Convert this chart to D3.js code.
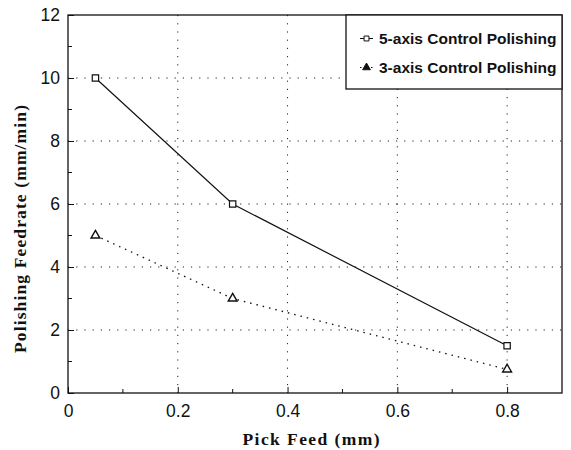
<!DOCTYPE html>
<html>
<head>
<meta charset="utf-8">
<script src="https://cdn.jsdelivr.net/npm/d3@7"></script>
<style>
  body { margin: 0; background: #fff; }
  .tick text { font-family: "Liberation Sans", Arial, sans-serif; font-size: 17.5px; fill: #111; }
  .grid line { stroke: #222; stroke-dasharray: 1.2 7; }
  .axtitle { font-family: "Liberation Serif", "Times New Roman", serif; font-weight: bold; font-size: 17.5px; fill: #111; }
  .legend text { font-family: "Liberation Sans", Arial, sans-serif; font-weight: bold; font-size: 15.5px; fill: #111; }
</style>
</head>
<body>
<div id="chart"></div>
<script>
const margin = { top: 15, right: 9, bottom: 57, left: 68 },
      width = 571 - margin.left - margin.right,
      height = 450 - margin.top - margin.bottom;

// values
const pickFeed = [0.05, 0.3, 0.8];
const feed5axis = [10, 6, 1.5];
const feed3axis = [5, 3, 0.75];
const xTicks = [0, 0.2, 0.4, 0.6, 0.8];
const yTicks = [0, 2, 4, 6, 8, 10, 12];
const xMinor = [0.1, 0.3, 0.5, 0.7];
const yMinor = [1, 3, 5, 7, 9, 11];
const seriesNames = ["5-axis Control Polishing", "3-axis Control Polishing"];

const x = d3.scaleLinear().domain([0, 0.9]).range([0, width]);
const y = d3.scaleLinear().domain([0, 12]).range([height, 0]);

const svg = d3.select("#chart").append("svg")
    .attr("width", width + margin.left + margin.right)
    .attr("height", height + margin.top + margin.bottom)
  .append("g")
    .attr("transform", "translate(" + margin.left + "," + margin.top + ")");

// dotted grid
svg.append("g").attr("class", "grid")
  .selectAll("line").data(xTicks.filter(d => d > 0)).join("line")
  .attr("x1", d => x(d)).attr("x2", d => x(d))
  .attr("y1", 0).attr("y2", height);
svg.append("g").attr("class", "grid")
  .selectAll("line").data(yTicks.filter(d => d > 0 && d < 12)).join("line")
  .attr("x1", 0).attr("x2", width)
  .attr("y1", d => y(d)).attr("y2", d => y(d));

// axes
const xAxis = svg.append("g")
  .attr("transform", "translate(0," + height + ")")
  .call(d3.axisBottom(x).tickValues(xTicks).tickFormat(d => d === 0 ? "0" : d3.format(".1f")(d)).tickSize(-6).tickPadding(12));
const yAxis = svg.append("g")
  .call(d3.axisLeft(y).tickValues(yTicks).tickSize(-6).tickPadding(8));
[xAxis, yAxis].forEach(a => {
  a.select(".domain").remove();
  a.selectAll(".tick line").attr("stroke", "#111");
});

svg.append("g").selectAll("line").data(xMinor).join("line")
  .attr("x1", d => x(d)).attr("x2", d => x(d))
  .attr("y1", height).attr("y2", height - 4)
  .attr("stroke", "#111");
svg.append("g").selectAll("line").data(yMinor).join("line")
  .attr("x1", 0).attr("x2", 4)
  .attr("y1", d => y(d)).attr("y2", d => y(d))
  .attr("stroke", "#111");

// frame
svg.append("rect")
  .attr("width", width).attr("height", height)
  .attr("fill", "none").attr("stroke", "#111").attr("stroke-width", 1.3);

// lines
const data5 = pickFeed.map((p, i) => ({ p, v: feed5axis[i] }));
const data3 = pickFeed.map((p, i) => ({ p, v: feed3axis[i] }));
const line = d3.line().x(d => x(d.p)).y(d => y(d.v));

svg.append("path").datum(data5)
  .attr("d", line).attr("fill", "none").attr("stroke", "#111").attr("stroke-width", 1.2);
svg.append("path").datum(data3)
  .attr("d", line).attr("fill", "none").attr("stroke", "#111")
  .attr("stroke-width", 1.3).attr("stroke-dasharray", "1.5 5");

const square = d3.symbol().type(d3.symbolSquare).size(40);
const triangle = d3.symbol().type(d3.symbolTriangle).size(34);

svg.append("g").selectAll("path").data(data5).join("path")
  .attr("d", square)
  .attr("transform", d => "translate(" + x(d.p) + "," + y(d.v) + ")")
  .attr("fill", "#fff").attr("stroke", "#111").attr("stroke-width", 1.2);
svg.append("g").selectAll("path").data(data3).join("path")
  .attr("d", triangle)
  .attr("transform", d => "translate(" + x(d.p) + "," + y(d.v) + ")")
  .attr("fill", "#fff").attr("stroke", "#111").attr("stroke-width", 1.4);

// legend
const lg = svg.append("g").attr("class", "legend")
  .attr("transform", "translate(" + (width - 216) + ",0)");
lg.append("rect").attr("width", 216).attr("height", 74)
  .attr("fill", "#fff").attr("stroke", "#111").attr("stroke-width", 1.3);
seriesNames.forEach((name, i) => {
  const row = lg.append("g").attr("transform", "translate(0," + (29 + i * 29) + ")");
  row.append("line").attr("x1", 14).attr("x2", 27).attr("y1", -5.5).attr("y2", -5.5)
    .attr("stroke", "#111").attr("stroke-dasharray", i === 0 ? null : "1.5 4");
  row.append("path").attr("d", i === 0 ? square.size(24)() : triangle.size(26)())
    .attr("transform", "translate(20.5,-5.5)")
    .attr("fill", i === 0 ? "#fff" : "#111").attr("stroke", "#111");
  row.append("text").attr("x", 33).attr("y", 0).text(name);
});

// axis titles
svg.append("text").attr("class", "axtitle")
  .attr("x", 311 - margin.left).attr("y", height + 52)
  .attr("text-anchor", "middle")
  .attr("textLength", 137).attr("lengthAdjust", "spacing")
  .text("Pick Feed (mm)");
svg.append("text").attr("class", "axtitle")
  .attr("transform", "translate(-42," + (229 - margin.top) + ") rotate(-90)")
  .attr("text-anchor", "middle")
  .attr("textLength", 248).attr("lengthAdjust", "spacing")
  .text("Polishing Feedrate (mm/min)");
</script>
</body>
</html>
